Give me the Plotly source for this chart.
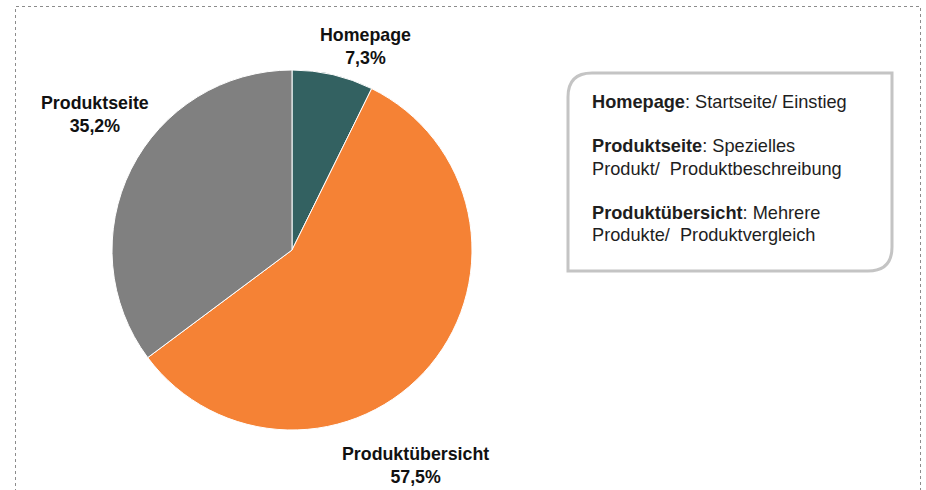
import plotly.graph_objects as go

W, H = 926, 490

# ---- data ----
categories = ["Homepage", "Produktübersicht", "Produktseite"]
shares = [7.3, 57.5, 35.2]
colors = ["#336161", "#F58235", "#808080"]

legend_terms = ["Homepage", "Produktseite", "Produktübersicht"]
legend_desc = [["Startseite/ Einstieg"],
               ["Spezielles", "Produkt/  Produktbeschreibung"],
               ["Mehrere", "Produkte/  Produktvergleich"]]

def px(x):
    return x / W

def py(y):
    return 1 - y / H

def fmt(v):
    return f"{v:.1f}".replace(".", ",") + "%"

fig = go.Figure()
fig.add_trace(go.Pie(
    labels=categories,
    values=shares,
    sort=False,
    direction="clockwise",
    rotation=0,
    marker=dict(colors=colors, line=dict(color="white", width=1)),
    textinfo="none",
    hoverinfo="skip",
    showlegend=False,
    domain=dict(x=[px(112), px(472)], y=[py(430), py(70)]),
))

font_family = "Liberation Sans, Arial, sans-serif"

# outside labels
label_pos = {"Homepage": (365, 46), "Produktseite": (95, 114), "Produktübersicht": (415, 465)}
annotations = []
for cat, val in zip(categories, shares):
    x, y = label_pos[cat]
    annotations.append(dict(
        x=px(x), y=py(y), xref="paper", yref="paper",
        text=f"<b>{cat}<br>{fmt(val)}</b>", showarrow=False,
        xanchor="center", yanchor="middle", align="center",
        font=dict(family=font_family, size=17.8, color="#111111"),
    ))

# info box text, one annotation per line
line_h = 22.2
y_line = 102
for i, (term, desc) in enumerate(zip(legend_terms, legend_desc)):
    if i > 0:
        y_line += line_h * 2
    for j, d in enumerate(desc):
        txt = f"<b>{term}</b>: {d}" if j == 0 else d
        if j > 0:
            y_line += line_h
        annotations.append(dict(
            x=px(590), y=py(y_line), xref="paper", yref="paper",
            text=txt, showarrow=False, xanchor="left", yanchor="middle", align="left",
            font=dict(family=font_family, size=18.2, color="#1e1e1e"),
        ))

# info box shape (rounded top-left and bottom-right corners)
x0, x1, y0, y1, r = 568, 892, 73, 271, 24
path = (
    f"M {px(x0)},{py(y0 + r)} Q {px(x0)},{py(y0)} {px(x0 + r)},{py(y0)} "
    f"L {px(x1)},{py(y0)} L {px(x1)},{py(y1 - r)} "
    f"Q {px(x1)},{py(y1)} {px(x1 - r)},{py(y1)} "
    f"L {px(x0)},{py(y1)} Z"
)
shapes = [
    dict(type="rect", xref="paper", yref="paper",
         x0=px(15.5), x1=px(920.5), y0=py(510), y1=py(6.5),
         line=dict(color="#8c8c8c", width=1, dash="dot"), fillcolor="rgba(0,0,0,0)"),
    dict(type="path", xref="paper", yref="paper", path=path,
         line=dict(color="#c4c4c4", width=3), fillcolor="white"),
]

fig.update_layout(
    width=W, height=H,
    margin=dict(l=0, r=0, t=0, b=0),
    paper_bgcolor="white", plot_bgcolor="white",
    annotations=annotations, shapes=shapes,
    font=dict(family=font_family),
)

fig.write_html(
    "out.html",
    config={"displayModeBar": False, "staticPlot": True},
    post_script="document.body.style.margin='0';document.body.style.overflow='hidden';",
)
